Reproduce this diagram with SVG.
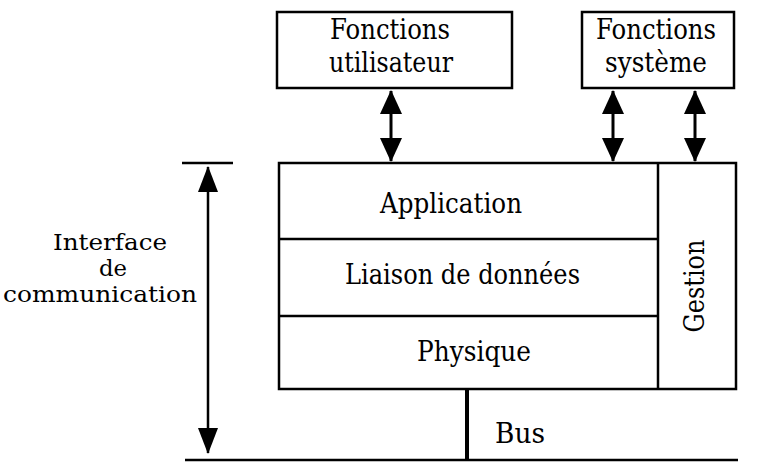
<svg xmlns="http://www.w3.org/2000/svg" width="759" height="463" viewBox="0 0 759 463">
<style>
  .box { fill: #fff; stroke: #000; stroke-width: 2.5; }
  .ln { stroke: #000; stroke-width: 2.5; fill: none; }
  .conn { stroke: #000; stroke-width: 3; fill: none; }
  .t { font-family: 'DejaVu Serif', 'Liberation Serif', serif; font-size: 27px; fill: #000; }
  .s { font-size: 22px; }
  .c { text-anchor: middle; }
</style>
<defs>
  <marker id="ah" markerUnits="userSpaceOnUse" markerWidth="24" markerHeight="22" refX="23" refY="11" orient="auto-start-reverse">
    <path d="M0,0 L24,11 L0,22 z" fill="#000"/>
  </marker>
  <marker id="ahs" markerUnits="userSpaceOnUse" markerWidth="26" markerHeight="20" refX="25" refY="10" orient="auto-start-reverse">
    <path d="M0,0 L26,10 L0,20 z" fill="#000"/>
  </marker>
</defs>
<rect width="759" height="463" fill="#fff"/>

<g id="fonctions-utilisateur">
  <rect class="box" x="277" y="12" width="235" height="76"/>
  <text class="t c" x="390" y="39" textLength="120" lengthAdjust="spacingAndGlyphs">Fonctions</text>
  <text class="t c" x="391" y="72" textLength="124" lengthAdjust="spacingAndGlyphs">utilisateur</text>
</g>

<g id="fonctions-systeme">
  <rect class="box" x="582" y="12" width="152" height="76"/>
  <text class="t c" x="656" y="39" textLength="120" lengthAdjust="spacingAndGlyphs">Fonctions</text>
  <text class="t c" x="656" y="72" textLength="102" lengthAdjust="spacingAndGlyphs">système</text>
</g>

<g id="pile">
  <rect class="box" x="279" y="163" width="457" height="226"/>
  <line class="ln" x1="658" y1="163" x2="658" y2="389"/>
</g>

<g id="application">
  <text class="t" x="380" y="213" textLength="142" lengthAdjust="spacingAndGlyphs">Application</text>
</g>
<g id="liaison">
  <line class="ln" x1="279" y1="239" x2="658" y2="239"/>
  <text class="t" x="345" y="284" textLength="235" lengthAdjust="spacingAndGlyphs">Liaison de données</text>
</g>
<g id="physique">
  <line class="ln" x1="279" y1="316" x2="658" y2="316"/>
  <text class="t" x="417" y="361" textLength="114" lengthAdjust="spacingAndGlyphs">Physique</text>
</g>
<g id="gestion">
  <text class="t c" transform="translate(704,286) rotate(-90)" textLength="93" lengthAdjust="spacingAndGlyphs">Gestion</text>
</g>

<g id="interface">
  <line class="ln" x1="182" y1="163" x2="233" y2="163"/>
  <text class="t s c" x="110" y="250" textLength="114" lengthAdjust="spacingAndGlyphs">Interface</text>
  <text class="t s c" x="113" y="276" textLength="28" lengthAdjust="spacingAndGlyphs">de</text>
  <text class="t s c" x="100" y="302" textLength="194" lengthAdjust="spacingAndGlyphs">communication</text>
</g>

<g id="bus">
  <line class="ln" x1="185" y1="460" x2="738" y2="460"/>
  <text class="t" x="495" y="443" textLength="50" lengthAdjust="spacingAndGlyphs">Bus</text>
</g>

<g id="connectors">
  <line class="conn" x1="391" y1="91" x2="391" y2="161" marker-start="url(#ah)" marker-end="url(#ah)"/>
  <line class="conn" x1="613" y1="91" x2="613" y2="161" marker-start="url(#ah)" marker-end="url(#ah)"/>
  <line class="conn" x1="695" y1="91" x2="695" y2="161" marker-start="url(#ah)" marker-end="url(#ah)"/>
  <line class="conn" x1="208" y1="167" x2="208" y2="453" marker-start="url(#ahs)" marker-end="url(#ahs)" style="stroke-width:2.5"/>
  <line x1="467" y1="389" x2="467" y2="460" stroke="#000" stroke-width="4"/>
</g>
</svg>
